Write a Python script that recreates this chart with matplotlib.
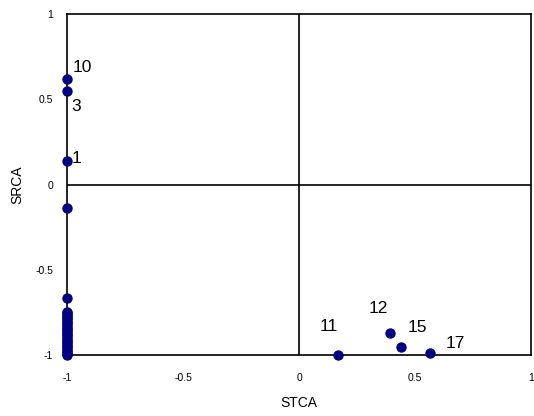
import matplotlib
matplotlib.use("Agg")
import matplotlib.pyplot as plt

# points on the left edge (STCA = -1)
left_y = [0.62, 0.55, 0.135, -0.135, -0.665, -0.745, -0.755, -0.765, -0.775,
          -0.785, -0.795, -0.805, -0.815, -0.825, -0.835, -0.845, -0.855,
          -0.865, -0.875, -0.885, -0.895, -0.905, -0.915, -0.925, -0.935,
          -0.945, -0.955, -0.965, -0.975, -0.985, -0.995, -1.0]
left_x = [-1.0] * len(left_y)

# points in the lower right quadrant
right_x = [0.17, 0.39, 0.44, 0.565]
right_y = [-1.0, -0.87, -0.955, -0.99]

labels = ["10", "3", "1", "11", "12", "15", "17"]
label_x = [-0.975, -0.98, -0.98, 0.087, 0.30, 0.467, 0.633]
label_y = [0.66, 0.43, 0.125, -0.86, -0.755, -0.865, -0.96]

fig = plt.figure(figsize=(5.34, 4.16), dpi=100)
ax = fig.add_axes([0.1255, 0.1466, 0.8690, 0.8197])

ax.axhline(0, color="black", lw=1.2, zorder=1)
ax.axvline(0, color="black", lw=1.2, zorder=1)

ax.scatter(left_x + right_x, left_y + right_y, s=42, color="#000080",
           zorder=3, clip_on=False)

for t, x, y in zip(labels, label_x, label_y):
    ax.text(x, y, t, fontsize=12.5, color="black", family="Liberation Sans")

ax.set_xlim(-1, 1)
ax.set_ylim(-1, 1)
ticks = [-1, -0.5, 0, 0.5, 1]
ax.set_xticks(ticks)
ax.set_yticks(ticks)
ax.set_xticklabels(["-1", "-0.5", "0", "0.5", "1"], family="Liberation Sans")
ax.set_yticklabels(["-1", "-0.5", "0", "0.5", "1"], family="Liberation Sans")
ax.tick_params(length=0, labelsize=7.5)
ax.tick_params(axis="x", pad=13)
ax.tick_params(axis="y", pad=10)
for s in ax.spines.values():
    s.set_linewidth(1.2)

ax.set_xlabel("STCA", fontsize=10, labelpad=9, family="Liberation Sans")
ax.set_ylabel("SRCA", fontsize=10, labelpad=8, family="Liberation Sans")

fig.savefig("out.png", dpi=100)
